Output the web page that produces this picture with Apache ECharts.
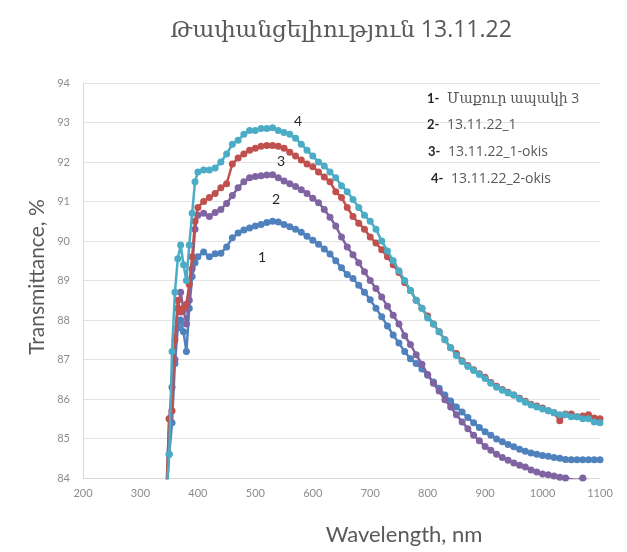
<!DOCTYPE html>
<html>
<head>
<meta charset="utf-8">
<script src="https://cdn.jsdelivr.net/npm/echarts@6/dist/echarts.min.js"></script>
<style>
html,body{margin:0;padding:0;background:#fff;}
#chart{width:627px;height:552px;}
</style>
</head>
<body>
<div id="chart"></div>
<script>
// ---- data ----
var wavelengths = [
  345,350,355,360,365,370,375,380,385,390,395,400,
  410,420,430,440,450,460,470,480,490,500,
  510,520,530,540,550,560,570,580,590,600,
  610,620,630,640,650,660,670,680,690,700,
  710,720,730,740,750,760,770,780,790,800,
  810,820,830,840,850,860,870,880,890,900,
  910,920,930,940,950,960,970,980,990,1000,
  1010,1020,1030,1040,1050,1060,1070,1080,1090,1100
];
var series1 = [ // Մաքուր ապակի 3
  83.5,84.6,85.4,86.9,87.8,88.0,87.7,87.2,88.3,89.1,89.45,89.6,
  89.72,89.6,89.68,89.69,89.85,90.08,90.2,90.28,90.33,90.38,
  90.42,90.47,90.5,90.48,90.42,90.36,90.3,90.22,90.12,90.02,
  89.92,89.8,89.67,89.5,89.32,89.15,89.05,88.88,88.7,88.51,
  88.3,88.08,87.85,87.62,87.42,87.2,87.02,86.9,86.76,86.6,
  86.43,86.27,86.1,85.95,85.8,85.67,85.53,85.4,85.28,85.17,
  85.08,84.99,84.92,84.85,84.79,84.73,84.68,84.63,84.6,84.57,
  84.55,84.52,84.5,84.47,84.46,84.46,84.46,84.46,84.46,84.46
];
var series2 = [ // 13.11.22_1
  83.6,85.5,86.3,87.0,88.3,88.7,88.25,87.9,88.5,89.3,90.3,90.65,
  90.7,90.62,90.72,90.8,90.95,91.15,91.35,91.5,91.6,91.63,
  91.65,91.67,91.68,91.6,91.52,91.45,91.38,91.3,91.2,91.08,
  90.97,90.8,90.6,90.38,90.1,89.85,89.65,89.45,89.22,89.0,
  88.8,88.58,88.35,88.12,87.9,87.6,87.38,87.12,86.88,86.62,
  86.4,86.2,85.98,85.8,85.6,85.42,85.25,85.08,84.94,84.8,
  84.7,84.6,84.52,84.45,84.38,84.32,84.28,84.2,84.15,84.1,
  84.08,84.05,84.02,84.0,83.97,83.95,84.0,83.93,83.9,83.9
];
var series3 = [ // 13.11.22_1-okis
  83.4,85.5,85.7,87.5,88.5,88.2,88.3,88.4,88.9,89.6,90.5,90.85,
  91.0,91.1,91.2,91.35,91.45,91.95,92.1,92.2,92.3,92.35,
  92.4,92.42,92.42,92.4,92.35,92.25,92.15,92.05,91.95,91.88,
  91.75,91.62,91.5,91.25,91.1,90.85,90.62,90.45,90.3,90.1,
  89.95,89.78,89.6,89.4,89.2,88.95,88.75,88.5,88.3,88.1,
  87.9,87.7,87.5,87.3,87.15,86.97,86.85,86.74,86.64,86.55,
  86.42,86.32,86.24,86.17,86.1,86.02,85.94,85.87,85.82,85.77,
  85.7,85.65,85.45,85.62,85.62,85.55,85.57,85.6,85.52,85.5
];
var series4 = [ // 13.11.22_2-okis
  83.5,84.6,87.2,88.7,89.55,89.9,89.4,89.0,89.9,90.7,91.5,91.75,
  91.8,91.8,91.85,92.0,92.2,92.45,92.55,92.7,92.8,92.8,
  92.85,92.85,92.87,92.8,92.75,92.7,92.6,92.45,92.3,92.15,
  92.0,91.9,91.75,91.6,91.4,91.25,91.05,90.85,90.65,90.5,
  90.3,90.0,89.75,89.5,89.25,89.0,88.75,88.5,88.3,88.05,
  87.9,87.7,87.5,87.3,87.1,86.95,86.82,86.72,86.62,86.52,
  86.4,86.3,86.22,86.15,86.1,86.0,85.92,85.85,85.8,85.75,
  85.7,85.65,85.6,85.6,85.55,85.55,85.5,85.5,85.42,85.4
];
var legendNums = ['1-','2-','3-','4-'];
var legendNames = ['Մաքուր ապակի 3','13.11.22_1','13.11.22_1-okis','13.11.22_2-okis'];
var curveNums = ['1','2','3','4'];
var titleText = 'Թափանցելիություն 13.11.22';
var xName = 'Wavelength, nm';
var yName = 'Transmittance, %';

// ---- chart ----
var colors = ['#4F81BD','#8064A2','#C0504D','#4BACC6'];
function pairs(vals){ return wavelengths.map(function(w,i){ return [w, vals[i]]; }); }
var allSeries = [series1, series2, series3, series4];
var order = [0,2,1,3];
var FONT = "Lato, 'DejaVu Sans', sans-serif";
var ARM = "'Open Sans', 'DejaVu Serif', serif";

var seriesList = order.map(function(k){
  return {
    type:'line', name: legendNames[k], data: pairs(allSeries[k]),
    symbol:'circle', symbolSize:7, showSymbol:true,
    lineStyle:{color:colors[k], width:2.5},
    itemStyle:{color:colors[k]},
    clip:true, animation:false, z: 2 + k
  };
});

var legendY = [99, 125, 152, 179];
var legendX = [427, 427, 428, 431];
var graphics = [];
legendNums.forEach(function(n,i){
  graphics.push({type:'text', x:legendX[i], y:legendY[i], z:100,
    style:{text:n, font:'bold 13px '+FONT, fill:'#262626', verticalAlign:'middle'}});
  graphics.push({type:'text', x:legendX[i]+20, y:legendY[i], z:100,
    style:{text:legendNames[i], font:'14px '+ARM, fill:'#595959', verticalAlign:'middle'}});
});
var numPos = [[262,257],[276,199],[281,161],[298,121]];
curveNums.forEach(function(n,i){
  graphics.push({type:'text', x:numPos[i][0], y:numPos[i][1], z:100,
    style:{text:n, font:'14px '+FONT, fill:'#262626', align:'center', verticalAlign:'middle'}});
});
graphics.push({type:'text', x:341, y:30, z:100,
  style:{text:titleText, font:'23px '+ARM, fill:'#595959', align:'center', verticalAlign:'middle'}});
graphics.push({type:'text', x:404, y:535, z:100,
  style:{text:xName, font:'22px '+FONT, fill:'#595959', align:'center', verticalAlign:'middle'}});
graphics.push({type:'text', x:37, y:277, rotation:Math.PI/2, z:100,
  style:{text:yName, font:'21px '+FONT, fill:'#595959', align:'center', verticalAlign:'middle'}});

var chart = echarts.init(document.getElementById('chart'), null, {renderer:'canvas'});
chart.setOption({
  backgroundColor:'#fff',
  animation:false,
  grid:{left:83, right:27, top:83, bottom:74},
  xAxis:{type:'value', min:200, max:1100, interval:100,
    axisLine:{show:true, lineStyle:{color:'#d9d9d9'}},
    axisTick:{show:false},
    splitLine:{show:false},
    axisLabel:{color:'#8c8c8c', fontSize:11, fontFamily:FONT, margin:10,
      formatter:function(v){ return String(v); }}},
  yAxis:{type:'value', min:84, max:94, interval:1,
    axisLine:{show:true, lineStyle:{color:'#d9d9d9'}},
    axisTick:{show:false},
    splitLine:{show:true, lineStyle:{color:'#e3e3e3', width:1}},
    axisLabel:{color:'#8c8c8c', fontSize:11, fontFamily:FONT, margin:13}},
  series: seriesList,
  graphic: graphics
});
</script>
</body>
</html>
